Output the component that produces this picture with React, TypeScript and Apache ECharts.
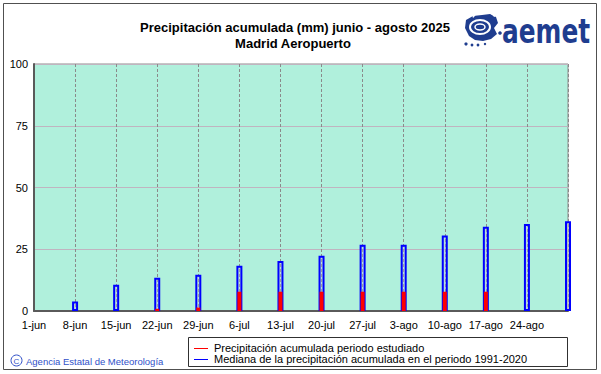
import React, { useEffect, useRef } from 'react';
import * as echarts from 'echarts';

const titleLines = ['Precipitación acumulada (mm) junio - agosto 2025', 'Madrid Aeropuerto'];
const periodStart = '2025-06-01';
const periodEnd = '2025-08-31';
const xTickLabels = ['1-jun', '8-jun', '15-jun', '22-jun', '29-jun', '6-jul', '13-jul', '20-jul', '27-jul', '3-ago', '10-ago', '17-ago', '24-ago'];
const barDates = ['2025-06-08', '2025-06-15', '2025-06-22', '2025-06-29', '2025-07-06', '2025-07-13', '2025-07-20', '2025-07-27', '2025-08-03', '2025-08-10', '2025-08-17', '2025-08-24', '2025-08-31'];
const medianPrecip = [3.8, 10.6, 13.5, 14.7, 18.3, 20.2, 22.4, 26.8, 26.8, 30.6, 34.1, 35.2, 36.3];
const observedPrecip: (number | null)[] = [0, 0, 0.9, 1.4, 7.8, 7.8, 7.8, 7.8, 7.8, 7.8, 7.8, null, null];
const legendLabels = ['Precipitación acumulada periodo estudiado', 'Mediana de la precipitación acumulada en el periodo 1991-2020'];
const creditText = 'Agencia Estatal de Meteorología';
const logoText = 'aemet';
const yMin = 0;
const yMax = 100;
const yStep = 25;
const weekStep = 7;

const dayOffset = (d: string) => Math.round((Date.parse(d) - Date.parse(periodStart)) / 86400000);

const FONT = '"Liberation Sans", Arial, sans-serif';
const LOGO_BLUE = '#1f3d8f';

export default function App() {
  const ref = useRef<HTMLDivElement>(null);
  useEffect(() => {
    if (!ref.current) return;
    const chart = echarts.init(ref.current, null, { renderer: 'svg' });
    const xMax = dayOffset(periodEnd);
    const xAxisBase = {
      type: 'value' as const,
      min: 0,
      max: xMax,
      interval: weekStep,
    };
    chart.setOption({
      animation: false,
      backgroundColor: '#ffffff',
      grid: {
        left: 34, top: 64, width: 534, height: 247,
        show: true, backgroundColor: '#b0f0dc', borderColor: '#8c8c8c', borderWidth: 1,
      },
      xAxis: [
        {
          ...xAxisBase,
          axisLine: { show: true, lineStyle: { color: '#5a5a5a', width: 2 } },
          axisTick: { show: false },
          axisLabel: {
            fontSize: 11, color: '#000', fontFamily: FONT, margin: 8, hideOverlap: false,
            formatter: (v: number) => {
              const i = Math.round(v / weekStep);
              return v % weekStep === 0 && i < xTickLabels.length ? xTickLabels[i] : '';
            },
          },
          splitLine: { show: true, lineStyle: { color: '#8a8a8a', type: [3, 2], width: 1 } },
        },
        {
          ...xAxisBase,
          show: false,
          splitLine: { show: false },
        },
      ],
      yAxis: {
        type: 'value', min: yMin, max: yMax, interval: yStep,
        axisLine: { show: true, lineStyle: { color: '#5a5a5a', width: 2 } },
        axisTick: { show: false },
        axisLabel: { fontSize: 11, color: '#000', fontFamily: FONT, margin: 6 },
        splitLine: { show: true, lineStyle: { color: '#c0b4c0', width: 1 } },
      },
      series: [
        {
          type: 'bar',
          name: legendLabels[1],
          xAxisIndex: 0,
          barWidth: 6,
          clip: false,
          z: 2,
          itemStyle: { color: 'rgba(200,200,210,0.35)', borderColor: '#0000ff', borderWidth: 2 },
          data: barDates.map((d, i) => [dayOffset(d), medianPrecip[i]]),
        },
        {
          type: 'bar',
          name: legendLabels[0],
          xAxisIndex: 1,
          barWidth: 4,
          clip: false,
          z: 3,
          itemStyle: { color: '#ff0000' },
          data: barDates.map((d, i) => [dayOffset(d), observedPrecip[i]]),
        },
      ],
      graphic: [
        // outer frame
        { type: 'rect', shape: { x: 3.5, y: 3.5, width: 593, height: 366 }, style: { fill: 'none', stroke: '#505050', lineWidth: 1 }, silent: true },
        // titles
        { type: 'text', x: 295, y: 27, style: { text: titleLines[0], font: `bold 13px ${FONT}`, fill: '#000', align: 'center', verticalAlign: 'middle' } },
        { type: 'text', x: 293, y: 43, style: { text: titleLines[1], font: `bold 13px ${FONT}`, fill: '#000', align: 'center', verticalAlign: 'middle' } },
        // logo icon
        {
          type: 'group', x: 464, y: 14,
          children: [
            { type: 'polygon', shape: { points: [[2, 6], [9, 2], [18, 1], [26, 0], [32, 3], [34, 9], [30, 14], [33, 20], [27, 25], [19, 27], [11, 26], [5, 22], [1, 14]] }, style: { fill: LOGO_BLUE } },
            { type: 'ellipse', shape: { cx: 16, cy: 13, rx: 10, ry: 7 }, style: { fill: 'none', stroke: '#fff', lineWidth: 2 } },
            { type: 'ellipse', shape: { cx: 16, cy: 13, rx: 5, ry: 3 }, style: { fill: 'none', stroke: '#fff', lineWidth: 1.5 } },
            { type: 'arc', shape: { cx: 20, cy: 10, r: 13, startAngle: -2.6, endAngle: -0.6 }, style: { stroke: '#fff', lineWidth: 1.5, fill: 'none' } },
            { type: 'circle', shape: { cx: 2, cy: 30, r: 1.6 }, style: { fill: LOGO_BLUE } },
            { type: 'circle', shape: { cx: 8, cy: 31, r: 1.4 }, style: { fill: LOGO_BLUE } },
            { type: 'circle', shape: { cx: 14, cy: 31, r: 1.4 }, style: { fill: LOGO_BLUE } },
            { type: 'circle', shape: { cx: 21, cy: 30, r: 1.2 }, style: { fill: LOGO_BLUE } },
            { type: 'circle', shape: { cx: 36, cy: 19, r: 1.8 }, style: { fill: LOGO_BLUE } },
          ],
        },
        {
          type: 'text', x: 502, y: 31, scaleX: 0.73,
          style: { text: logoText, font: 'bold 34px "DejaVu Sans", sans-serif', fill: LOGO_BLUE, verticalAlign: 'middle' },
        },
        // legend box
        { type: 'rect', shape: { x: 188.5, y: 337.5, width: 379, height: 29 }, style: { fill: '#fff', stroke: '#303030', lineWidth: 1 } },
        { type: 'line', shape: { x1: 194, y1: 348.5, x2: 208, y2: 348.5 }, style: { stroke: '#ff0000', lineWidth: 1 } },
        { type: 'line', shape: { x1: 194, y1: 359.5, x2: 208, y2: 359.5 }, style: { stroke: '#0000ff', lineWidth: 1 } },
        { type: 'text', x: 214, y: 348, style: { text: legendLabels[0], font: `11px ${FONT}`, fill: '#000', verticalAlign: 'middle' } },
        { type: 'text', x: 214, y: 359, style: { text: legendLabels[1], font: `11px ${FONT}`, fill: '#000', verticalAlign: 'middle' } },
        // credit
        { type: 'circle', shape: { cx: 16.5, cy: 360.5, r: 5.5 }, style: { fill: 'none', stroke: '#3050c8', lineWidth: 1 } },
        { type: 'text', x: 16.5, y: 361, style: { text: 'C', font: `8px ${FONT}`, fill: '#3050c8', align: 'center', verticalAlign: 'middle' } },
        { type: 'text', x: 26, y: 361, style: { text: creditText, font: `9.5px ${FONT}`, fill: '#3050c8', verticalAlign: 'middle' } },
      ],
    });
    return () => chart.dispose();
  }, []);
  return (
    <div style={{ position: 'absolute', left: 0, top: 0, width: 601, height: 374, background: '#fff' }}>
      <div ref={ref} style={{ width: 601, height: 374 }} />
    </div>
  );
}
